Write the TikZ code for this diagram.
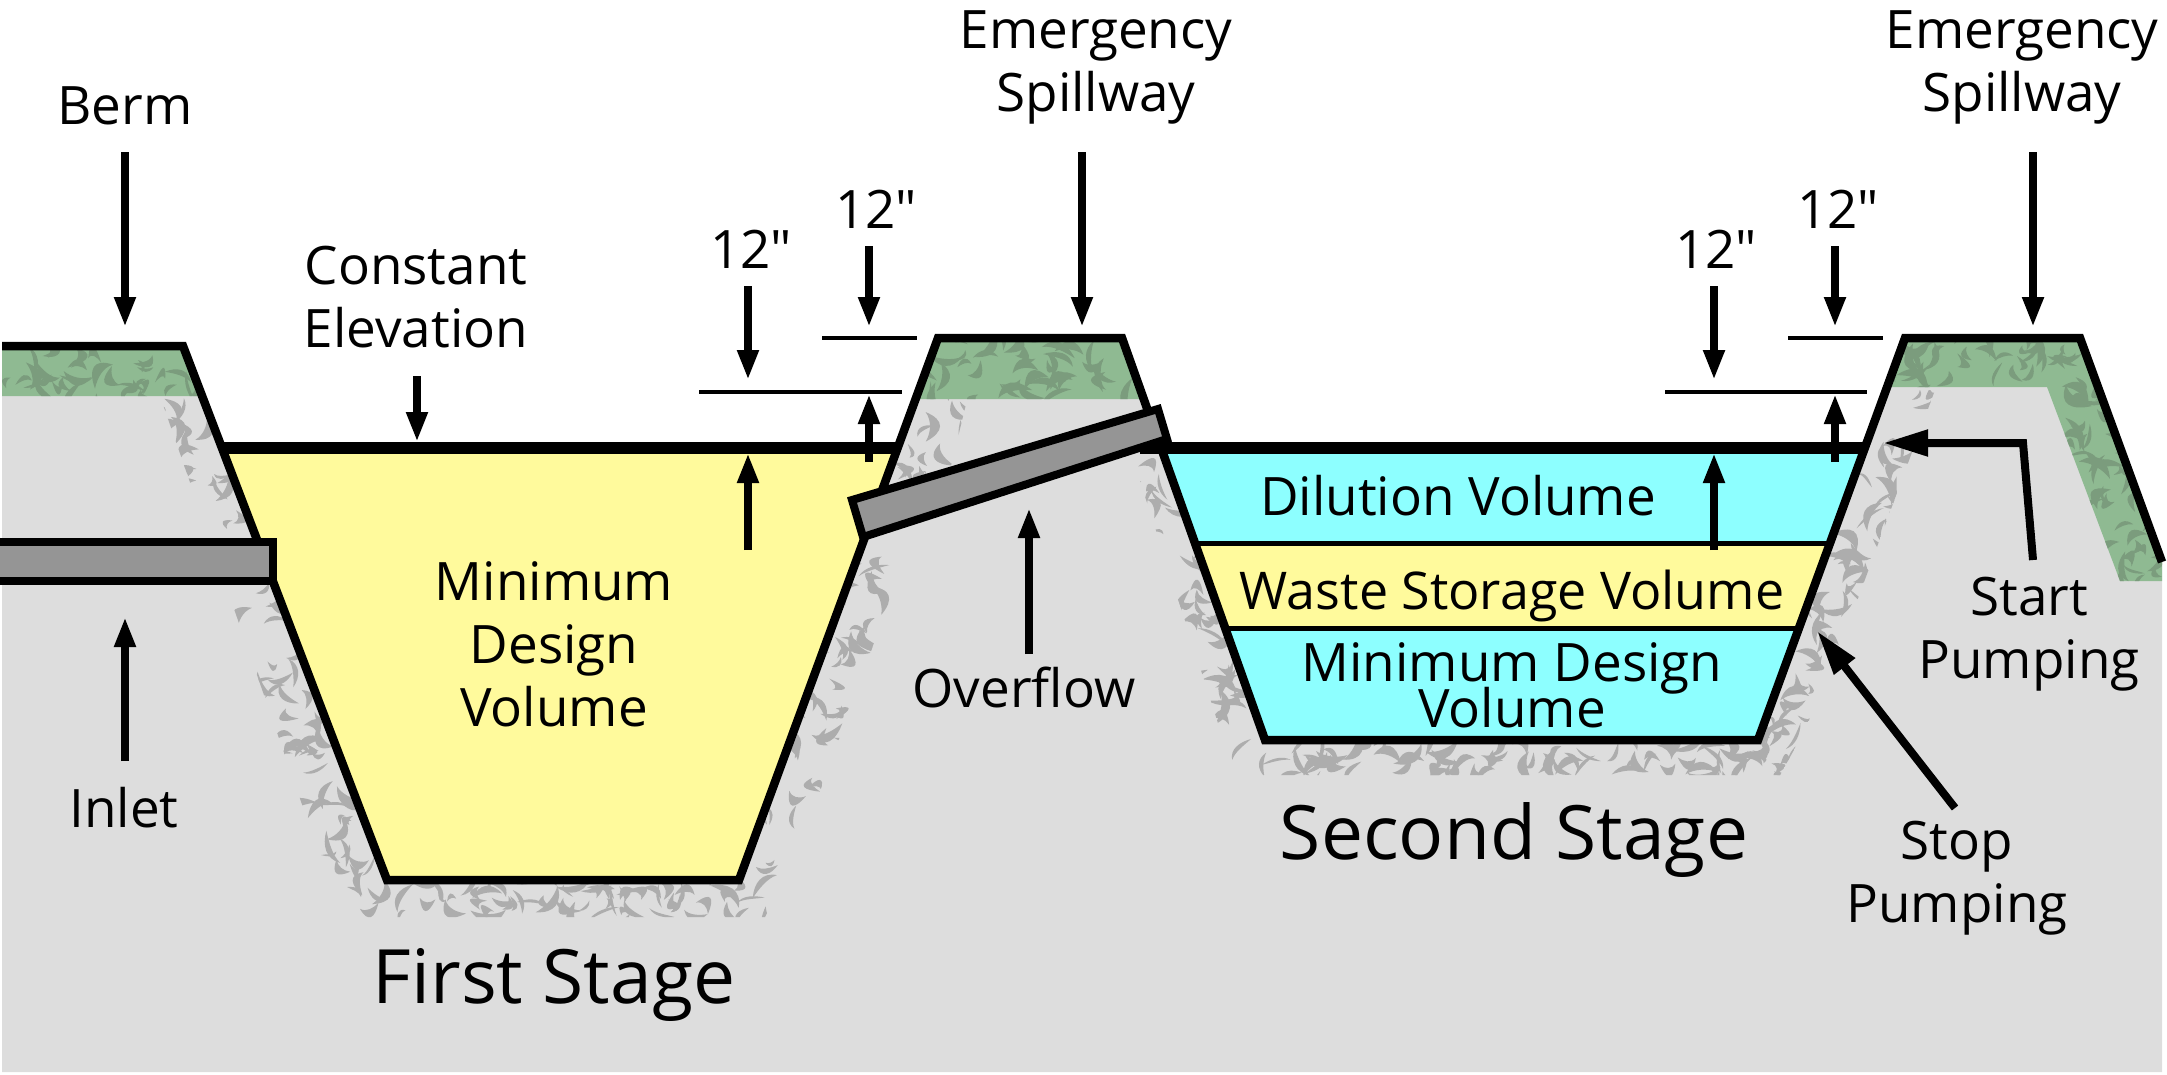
\documentclass[tikz,border=0pt]{standalone}
\usepackage{fontspec}
\setmainfont{Open Sans}
\usetikzlibrary{arrows.meta}
\definecolor{groundc}{HTML}{DDDDDD}
\definecolor{fleckc}{HTML}{ADADAD}
\definecolor{grassc}{HTML}{8FBA92}
\definecolor{grassd}{HTML}{7B9C7D}
\definecolor{yellowc}{HTML}{FFFA9C}
\definecolor{cyanc}{HTML}{8DFFFF}
\definecolor{pipec}{HTML}{959595}
\newcommand{\tightlines}{\setlength{\lineskiplimit}{-100pt}}
\tikzset{
  outline/.style={draw=black,line width=8.5pt,line join=miter},
  waterline/.style={draw=black,line width=12pt},
  bandline/.style={draw=black,line width=5pt},
  dimline/.style={draw=black,line width=3.5pt},
  pipebody/.style={draw=black,fill=pipec,line width=8pt,line join=miter},
  callout/.style={draw=black,line width=8pt,-{Triangle[width=20pt,length=30pt]},shorten >=0pt},
  bigcallout/.style={draw=black,line width=8pt,line join=miter,-{Triangle[width=25pt,length=45pt]}},
  lbl/.style={font=\fontsize{53}{63}\selectfont,inner sep=0pt,align=center},
  lblbig/.style={font=\fontsize{75}{88}\selectfont,inner sep=0pt,align=center},
}
% random crescent-shaped flecks in the parallelogram A, B, A+w
\newcommand{\flecks}[7]{%
  \foreach \ii in {1,...,#7}{%
    \pgfmathsetmacro{\tt}{rnd}\pgfmathsetmacro{\ss}{rnd}%
    \pgfmathsetmacro{\px}{#1+\tt*(#3-#1)+\ss*#5}%
    \pgfmathsetmacro{\py}{#2+\tt*(#4-#2)+\ss*#6}%
    \pgfmathsetmacro{\aa}{rnd*360}%
    \pgfmathsetmacro{\LL}{9+rnd*27}%
    \pgfmathsetmacro{\wa}{5+rnd*15}%
    \pgfmathsetmacro{\wb}{rnd*12-6}%
    \fill[shift={(\px,\py)},rotate=\aa]
      (0,0) .. controls (0.3*\LL,\wa) and (0.7*\LL,\wb+\wa) .. (\LL,\wb)
      .. controls (0.7*\LL,\wb+0.3*\wa) and (0.3*\LL,0.3*\wa) .. cycle;
  }%
}
\begin{document}
\begin{tikzpicture}[x=1pt,y=-1pt]
\useasboundingbox (0,0) rectangle (2167,1074);
\pgfmathsetseed{11}
% ground
\path[fill=groundc] (2,346) -- (183,346) -- (387,880) -- (739,880) -- (938,338) -- (1122,338)
  -- (1265,740) -- (1758,740) -- (1905,338) -- (2080,338) -- (2162,562) -- (2162,1072) -- (2,1072) -- cycle;
% gravel flecks
\begin{scope}
\clip (160,396) -- (330,885) -- (355,917) -- (765,917) -- (795,860) -- (915,530) -- (860,500) -- (300,396) -- cycle
  (920,396) -- (968,396) -- (950,470) -- (900,500) -- (880,500) -- cycle
  (1130,450) -- (1225,745) -- (1240,775) -- (1780,775) -- (1805,730) -- (1850,620) -- (1935,390) -- (1880,390) -- (1700,600) -- (1170,440) -- cycle;
\begin{scope}[fleckc]
\flecks{180}{396}{258}{538}{-45}{0}{26}
\flecks{278}{590}{378}{880}{-50}{0}{48}
\flecks{345}{884}{770}{884}{0}{30}{70}
\flecks{865}{545}{745}{880}{45}{0}{42}
\flecks{925}{400}{888}{505}{45}{0}{20}
\flecks{1160}{465}{1265}{740}{-45}{0}{46}
\flecks{1230}{745}{1800}{745}{0}{30}{90}
\flecks{1905}{385}{1762}{740}{42}{0}{62}
\end{scope}
\end{scope}
% grass
\path[fill=grassc] (2,350) -- (183,350) -- (198,396) -- (2,396) -- cycle;
\path[fill=grassc] (938,338) -- (1122,338) -- (1145,399) -- (915,399) -- cycle;
\path[fill=grassc] (1905,338) -- (2080,338) -- (2162,562) -- (2162,581) -- (2120,581) -- (2047,387) -- (1887,387) -- cycle;
\begin{scope}
\clip (2,350) -- (183,350) -- (198,396) -- (2,396) -- cycle;
\begin{scope}[grassd]\flecks{5}{350}{195}{350}{0}{46}{36}\end{scope}
\end{scope}
\begin{scope}
\clip (938,338) -- (1122,338) -- (1145,399) -- (915,399) -- cycle;
\begin{scope}[grassd]\flecks{920}{340}{1140}{340}{0}{58}{52}\end{scope}
\end{scope}
\begin{scope}
\clip (1905,338) -- (2080,338) -- (2162,562) -- (2162,581) -- (2120,581) -- (2047,387) -- (1887,387) -- cycle;
\begin{scope}[grassd]
\flecks{1895}{340}{2075}{340}{0}{48}{40}
\flecks{2050}{385}{2125}{580}{46}{0}{44}
\end{scope}
\end{scope}
% basins
\path[fill=yellowc] (222,448) -- (898,448) -- (739,880) -- (387,880) -- cycle;
\path[fill=cyanc] (1160,448) -- (1866,448) -- (1758,740) -- (1265,740) -- cycle;
\path[fill=yellowc] (1194,543) -- (1830,543) -- (1798,628) -- (1224,628) -- cycle;
% levels
\path[bandline] (1194,543) -- (1830,543);
\path[bandline] (1224,628) -- (1798,628);
\path[waterline] (222,448) -- (897,448);
\path[waterline] (1140,448) -- (1866,448);
% earth outline
\path[outline] (2,346) -- (183,346) -- (387,880) -- (739,880) -- (938,338) -- (1122,338)
  -- (1265,740) -- (1758,740) -- (1905,338) -- (2080,338) -- (2162,562);
% pipes
\path[draw=black,fill=pipec,line width=8pt] (0,542) -- (273,542) -- (273,581) -- (0,581);
\path[pipebody] (852,500) -- (1158,409) -- (1167,439) -- (863,537) -- cycle;
% dimension lines
\path[dimline] (699,392) -- (902,392);
\path[dimline] (822,338) -- (917,338);
\path[dimline] (1665,392) -- (1867,392);
\path[dimline] (1788,338) -- (1883,338);
% labels
\node[lbl] (berm) at (125,106) {Berm};
\node[lbl] (spill1) at (1096,67) {Emergency\\Spillway};
\node[lbl] (spill2) at (2022,67) {Emergency\\Spillway};
\node[lbl] (const) at (416,297) {Constant\\Elevation};
\node[lbl] (ta) at (751,249) {12″};
\node[lbl] (tb) at (876,209) {12″};
\node[lbl] (tc) at (1716,249) {12″};
\node[lbl] (td) at (1838,209) {12″};
\node[lbl] (mdv) at (554,644) {Minimum\\Design\\Volume};
\node[lbl] (dil) at (1458,496) {Dilution Volume};
\node[lbl,font=\fontsize{52}{60}\selectfont] (waste) at (1512,596) {Waste Storage Volume};
\node[lbl,font=\fontsize{53}{46}\selectfont\tightlines] (mdv2) at (1512,685) {Minimum Design\\Volume};
\node[lbl] (over) at (1024,687) {Overflow};
\node[lbl] (inlet) at (124,808) {Inlet};
\node[lbl] (start) at (2029,634) {Start\\Pumping};
\node[lbl] (stop) at (1957,878) {Stop\\Pumping};
\node[lblbig] (stage2) at (1514,840) {Second Stage};
\node[lblbig] (stage1) at (554,985) {First Stage};
% callout ends
\coordinate (a1) at (125,152); \coordinate (a2) at (125,327);
\coordinate (b1) at (1082,152); \coordinate (b2) at (1082,327);
\coordinate (c1) at (2033,152); \coordinate (c2) at (2033,327);
\coordinate (d1) at (417,376); \coordinate (d2) at (417,442);
\coordinate (e1) at (748,286); \coordinate (e2) at (748,380);
\coordinate (f1) at (869,246); \coordinate (f2) at (869,327);
\coordinate (g1) at (1714,286); \coordinate (g2) at (1714,380);
\coordinate (h1) at (1835,246); \coordinate (h2) at (1835,327);
\coordinate (i1) at (748,550); \coordinate (i2) at (748,453);
\coordinate (j1) at (869,462); \coordinate (j2) at (869,394);
\coordinate (k1) at (1714,550); \coordinate (k2) at (1714,453);
\coordinate (l1) at (1835,462); \coordinate (l2) at (1835,394);
\coordinate (m1) at (1029,654); \coordinate (m2) at (1029,508);
\coordinate (n1) at (125,761); \coordinate (n2) at (125,617);
\coordinate (p1) at (2033,560); \coordinate (p2) at (2023,443); \coordinate (p3) at (1883,443);
\coordinate (q1) at (1955,808); \coordinate (q2) at (1817,631);
\path[callout] (a1) -- (a2);
\path[callout] (b1) -- (b2);
\path[callout] (c1) -- (c2);
\path[callout] (d1) -- (d2);
\path[callout] (e1) -- (e2);
\path[callout] (f1) -- (f2);
\path[callout] (g1) -- (g2);
\path[callout] (h1) -- (h2);
\path[callout] (i1) -- (i2);
\path[callout] (j1) -- (j2);
\path[callout] (k1) -- (k2);
\path[callout] (l1) -- (l2);
\path[callout] (m1) -- (m2);
\path[callout] (n1) -- (n2);
\path[bigcallout] (p1) -- (p2) -- (p3);
\path[bigcallout] (q1) -- (q2);
\end{tikzpicture}
\end{document}
